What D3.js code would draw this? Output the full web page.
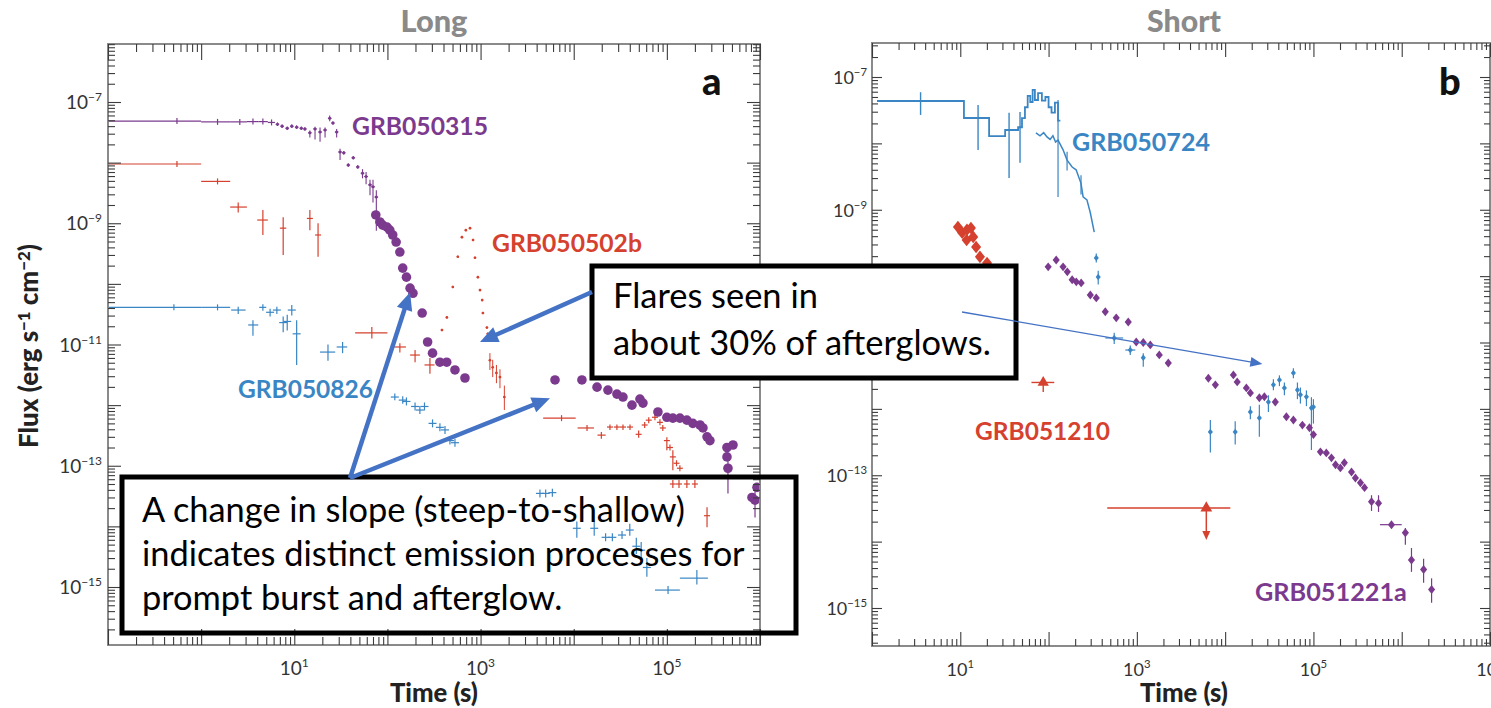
<!DOCTYPE html>
<html>
<head>
<meta charset="utf-8">
<script src="https://cdn.jsdelivr.net/npm/d3@7"></script>
<style>
  body { margin: 0; background: #fff; }
  svg { display: block; }
</style>
</head>
<body>
<svg id="chart" width="1491" height="708"></svg>
<script>
// ---------------------------------------------------------------------------
// Swift X-ray light curves: long bursts (a) and short bursts (b)
// Rows are [time (s), flux, tLo, tHi, fluxLo, fluxHi]; missing ends are null.
// ---------------------------------------------------------------------------

// ---- Panel a: long bursts ----
const grb050315Bins = [
  [0.55, 4.85e-8, 0.1, 1.0], [1.5, 4.7e-8, 1.0, 2.05], [2.6, 4.7e-8, 2.05, 3.1],
  [3.6, 4.75e-8, 3.1, 4.1], [4.6, 4.75e-8, 4.1, 5.2], [5.7, 4.6e-8, 5.2, 6.2]
];
const grb050315Prompt = [
  [6.6, 4.3e-8], [7.4, 4.0e-8], [8.4, 3.7e-8], [9.4, 4.0e-8], [10.6, 3.85e-8],
  [11.9, 3.7e-8], [13.0, 3.6e-8],
  [14.7, 3.1e-8, null, null, 2.6e-8, 3.4e-8], [16.7, 3.6e-8, null, null, 2.4e-8, 3.9e-8],
  [18.9, 3.2e-8, null, null, 2.2e-8, 3.8e-8], [21.4, 3.45e-8, null, null, 2.6e-8, 3.8e-8],
  [24.0, 5.4e-8, null, null, 4.8e-8, 6.0e-8], [26.0, 4.5e-8],
  [28.5, 3.2e-8, null, null, 2.6e-8, 3.6e-8], [31.0, 1.5e-8, null, null, 1.1e-8, 1.7e-8],
  [34.0, 1.45e-8], [38.0, 9.1e-9], [43.0, 1.2e-8], [48.0, 8.5e-9],
  [54.0, 6.7e-9, null, null, 5.5e-9, 7.8e-9], [59.0, 5.9e-9, null, null, 4.4e-9, 7.0e-9],
  [65.0, 4.3e-9, null, null, 2.9e-9, 5.2e-9], [70.0, 4.0e-9, null, null, 2.2e-9, 5.2e-9],
  [76.0, 2.7e-9, null, null, 7.5e-10, 3.5e-9]
];
const grb050315Afterglow = [
  [75, 1.37e-9], [83, 1.05e-9], [89, 9.3e-10], [99, 8.65e-10], [106, 7.7e-10],
  [114, 6.4e-10], [124, 4.9e-10], [136, 3.35e-10], [146, 1.82e-10], [160, 1.29e-10],
  [175, 8.5e-11], [188, 7.0e-11], [236, 3.3e-11], [270, 1.1e-11], [305, 7.2e-12],
  [366, 5.1e-12], [433, 5.1e-12], [531, 3.8e-12], [680, 2.8e-12],
  [6300, 2.6e-12], [12250, 2.6e-12], [17800, 1.98e-12], [23300, 1.77e-12],
  [29100, 1.52e-12], [33800, 1.36e-12], [42200, 1.0e-12], [51400, 1.26e-12],
  [55400, 1.08e-12], [80200, 7.7e-13], [100000, 6.3e-13], [116000, 6.1e-13],
  [138000, 6.1e-13], [164000, 5.65e-13], [190000, 5.0e-13], [227000, 4.7e-13],
  [244000, 4.2e-13], [270000, 3.0e-13], [290000, 2.6e-13], [442000, 2.0e-13],
  [513000, 2.2e-13], [442000, 1.4e-13], [453000, 9.1e-14, null, null, 3.5e-14, 1.4e-13],
  [820000, 3.0e-14], [884000, 2.7e-14, null, null, 1.4e-14, 4.4e-14], [928000, 4.4e-14]
];

const grb050502bBins = [[0.55, 9.5e-9, 0.1, 1.0], [1.5, 4.9e-9, 1.0, 2.05]];
const grb050502bCrosses = [
  [2.5, 1.85e-9, 2.05, 3.1, 1.5e-9, 2.2e-9], [4.6, 1.13e-9, 4.0, 5.2, 6.4e-10, 1.65e-9],
  [7.6, 8.3e-10, 7.0, 8.2, 3.0e-10, 1.25e-9], [14.7, 1.2e-9, null, null, 7.7e-10, 1.65e-9],
  [18.0, 6.4e-10, null, null, 2.8e-10, 1.0e-9],
  [68, 1.55e-11, 45, 100, 1.25e-11, 1.95e-11], [136, 9.1e-12, 118, 158, 7.4e-12, 1.05e-11],
  [198, 6.7e-12, 175, 223, 5.1e-12, 8.1e-12], [286, 4.6e-12, 250, 320, 3.3e-12, 6.0e-12],
  [7400, 6.1e-13, 4700, 10500], [13900, 4.2e-13, 11000, 16500],
  [19800, 3.2e-13, 18000, 22000, 2.8e-13, 3.6e-13],
  [24500, 4.35e-13, null, null, 3.9e-13, 4.8e-13], [29100, 4.35e-13, null, null, 3.9e-13, 4.8e-13],
  [33800, 4.35e-13, null, null, 3.9e-13, 4.8e-13], [40200, 4.35e-13, null, null, 3.9e-13, 4.8e-13],
  [49800, 3.3e-13, null, null, 2.9e-13, 3.8e-13], [57800, 4.7e-13], [63900, 5.65e-13],
  [74500, 6.3e-13], [84300, 5.2e-13], [90500, 4.2e-13],
  [100000, 2.6e-13, null, null, 1.81e-13, 2.96e-13], [108000, 2.0e-13],
  [116000, 1.4e-13, null, null, 8.45e-14, 1.81e-13], [127000, 1.1e-13], [138000, 9.1e-14],
  [116000, 5.0e-14, null, null, 4.3e-14, 5.8e-14], [135000, 5.0e-14, null, null, 4.3e-14, 5.8e-14],
  [164000, 5.0e-14, null, null, 4.3e-14, 5.8e-14], [200000, 5.0e-14, null, null, 4.3e-14, 5.8e-14],
  [270000, 1.5e-14, null, null, 9.7e-15, 2.07e-14]
];
const grb050502bFlare = [
  [385, 1.73e-11], [435, 2.8e-11], [504, 8.9e-11], [570, 2.8e-10], [631, 5.9e-10],
  [695, 7.7e-10], [770, 8.3e-10], [830, 5.3e-10], [871, 2.7e-10], [936, 1.29e-10],
  [986, 7.9e-11], [1040, 5.4e-11], [1060, 3.3e-11], [1170, 1.9e-11], [1195, 1.5e-11],
  [1260, 5.5e-12, null, null, 3.8e-12, 7.2e-12], [1350, 4.2e-12, null, null, 2.9e-12, 5.6e-12],
  [1480, 3.4e-12, null, null, 2.3e-12, 4.6e-12], [1615, 2.9e-12, null, null, 1.9e-12, 3.9e-12],
  [1800, 1.36e-12, null, null, 8.3e-13, 2.1e-12]
];

const grb050826Bins = [[0.51, 4.1e-11, 0.1, 1.0], [1.5, 4.1e-11, 1.0, 2.05]];
const grb050826Crosses = [
  [2.5, 3.7e-11, 2.1, 3.0, 3.2e-11, 4.2e-11], [3.6, 2.1e-11, 3.2, 4.1, 1.4e-11, 2.5e-11],
  [4.6, 4.1e-11, 4.2, 5.0, 3.6e-11, 4.6e-11], [5.5, 3.4e-11, null, null, 2.9e-11, 3.9e-11],
  [6.5, 3.7e-11, null, null, 3.2e-11, 4.2e-11], [7.6, 2.3e-11, null, null, 1.6e-11, 2.9e-11],
  [8.4, 2.4e-11, null, null, 1.7e-11, 3.1e-11], [9.4, 3.7e-11, null, null, 3.0e-11, 4.5e-11],
  [10.6, 1.5e-11, null, null, 4.6e-12, 2.5e-11],
  [23, 7.5e-12, 18.9, 27.5, 5.4e-12, 1.0e-11], [33, 9.1e-12, 28.5, 37, 7.2e-12, 1.1e-11],
  [120, 1.36e-12, null, null, 1.2e-12, 1.55e-12], [146, 1.21e-12, null, null, 1.05e-12, 1.4e-12],
  [160, 1.15e-12], [198, 9.5e-13], [223, 8.3e-13], [250, 9.5e-13],
  [305, 5.0e-13], [366, 4.3e-13], [415, 3.9e-13], [469, 2.6e-13], [531, 2.4e-13],
  [4340, 3.5e-14], [5000, 3.5e-14], [5900, 3.6e-14],
  [10800, 9.3e-15, null, null, 6.5e-15, 1.2e-14], [16600, 9.3e-15, null, null, 7.0e-15, 1.2e-14],
  [22000, 6.6e-15], [26000, 6.6e-15], [33000, 7.2e-15],
  [40000, 8.7e-15, null, null, 7.0e-15, 1.1e-14], [47000, 4.7e-15, null, null, 3.5e-15, 6.5e-15],
  [53000, 4.05e-15, null, null, 2.8e-15, 5.5e-15], [61000, 2.1e-15, null, null, 1.48e-15, 3.0e-15],
  [103000, 8.9e-16, 74500, 138000], [210000, 1.4e-15, 138000, 276000, 1.1e-15, 1.9e-15]
];

// ---- Panel b: short bursts ----
// BAT steps: [tStart, tEnd, flux]
const grb050724Bat = [
  [1.14, 11, 4.35e-8], [11, 21.2, 2.41e-8], [21.2, 32.2, 1.29e-8], [32.2, 45.2, 1.59e-8],
  [45.2, 50, 1.75e-8], [50, 54, 2.4e-8], [54, 58, 3.5e-8], [58, 62, 5.2e-8],
  [62, 66, 4.2e-8], [66, 70, 6.4e-8], [70, 76, 4.5e-8], [76, 84, 5.7e-8],
  [84, 92, 4.4e-8], [92, 100, 5.0e-8], [100, 108, 3.5e-8], [108, 118, 2.9e-8],
  [118, 128, 4.1e-8], [128, 136, 2.2e-8]
];
const grb050724BatErr = [
  [3.55, 4.35e-8, null, null, 2.68e-8, 5.9e-8], [15.9, 2.41e-8, null, null, 7.96e-9, 3.79e-8],
  [35.7, 1.59e-8, null, null, 3.0e-9, 2.9e-8], [47.5, 1.75e-8, null, null, 5.1e-9, 2.98e-8]
];
const grb050724XrtCurve = [
  [72, 1.44e-8], [80, 1.3e-8], [88, 1.45e-8], [96, 1.25e-8], [104, 1.15e-8], [112, 1.3e-8],
  [120, 1.05e-8], [128, 1.12e-8], [146, 8.0e-9], [162, 5.6e-9], [185, 4.4e-9], [205, 4.0e-9],
  [233, 2.5e-9], [246, 1.56e-9], [272, 1.41e-9], [297, 9.0e-10], [329, 4.6e-10]
];
const grb050724XrtErr = [
  [128, 1.12e-8, null, null, 1.56e-9, 4.5e-8], [162, 5.6e-9, null, null, 3.9e-9, 7.5e-9],
  [233, 2.5e-9, null, null, 1.7e-9, 3.3e-9]
];
const grb050724Late = [
  [347, 1.88e-10, null, null, 1.6e-10, 2.2e-10], [365, 9.7e-11, null, null, 7.5e-11, 1.2e-10],
  [554, 1.17e-11, 440, 700, 9.5e-12, 1.4e-11], [842, 7.7e-12, 740, 960, 6.5e-12, 9.0e-12],
  [1182, 5.9e-12, null, null, 4.3e-12, 6.9e-12],
  [6800, 4.5e-13, null, null, 2.2e-13, 6.8e-13], [13000, 4.5e-13, null, null, 2.9e-13, 6.5e-13],
  [19300, 9.0e-13, null, null, 7.0e-13, 1.1e-12], [24400, 7.3e-13, null, null, 3.8e-13, 1.15e-12],
  [30900, 1.27e-12, null, null, 9.0e-13, 1.6e-12], [35200, 2.3e-12, null, null, 1.9e-12, 2.8e-12],
  [41200, 2.73e-12, null, null, 2.2e-12, 3.2e-12], [46900, 2.07e-12, null, null, 1.6e-12, 2.5e-12],
  [59300, 3.48e-12, null, null, 2.9e-12, 4.1e-12], [65900, 1.93e-12, null, null, 1.4e-12, 2.5e-12],
  [71200, 1.63e-12, null, null, 1.2e-12, 2.1e-12], [83300, 1.52e-12, null, null, 1.1e-12, 1.9e-12],
  [94900, 1.03e-12, null, null, 2.4e-13, 1.5e-12], [100000, 1.07e-12, null, null, 6.0e-13, 1.4e-12]
];

const grb051210Prompt = [
  [9.4, 5.5e-10], [10.5, 4.5e-10], [11.8, 3.5e-10], [11.9, 5.0e-10], [13.2, 5.3e-10],
  [14.0, 3.9e-10], [15.1, 2.75e-10], [16.7, 1.95e-10], [20.1, 1.58e-10]
];
const grb051210Detection = [[87, 2.5e-12, 64, 116, 1.8e-12, 2.9e-12]];
const grb051210UpperLimit = [[6120, 3.2e-14, 462, 11450, 1.06e-14]];

const grb051221a = [
  [99, 1.38e-10], [122, 1.75e-10], [146, 1.38e-10], [163, 1.16e-10], [185, 8.8e-11],
  [206, 8.2e-11], [234, 7.9e-11], [297, 5.2e-11], [347, 4.7e-11], [439, 2.9e-11],
  [584, 2.35e-11], [799, 2.04e-11], [984, 1.02e-11], [1182, 1.0e-11], [1420, 9.2e-12],
  [1795, 6.5e-12], [2270, 4.9e-12], [6460, 2.9e-12], [7750, 2.3e-12], [12400, 3.25e-12],
  [13700, 2.55e-12], [17400, 2.07e-12], [19300, 1.74e-12], [24400, 1.47e-12],
  [27800, 1.52e-12], [37000, 1.27e-12], [49400, 7.6e-13], [59300, 6.8e-13],
  [75000, 5.7e-13], [90100, 5.2e-13], [100000, 4.1e-13], [120000, 2.25e-13],
  [140000, 2.17e-13], [160000, 1.83e-13], [178000, 1.44e-13], [202000, 1.29e-13],
  [224000, 1.54e-13], [270000, 1.12e-13], [299000, 9.1e-14], [341000, 7.7e-14],
  [379000, 6.5e-14],
  [455000, 4.0e-14, null, null, 2.9e-14, 5.0e-14], [546000, 3.8e-14, null, null, 2.8e-14, 5.0e-14],
  [766000, 1.8e-14, 567000, 1.0e6], [1.1e6, 1.36e-14, null, null, 9.0e-15, 1.6e-14],
  [1.29e6, 5.3e-15, null, null, 3.5e-15, 8.0e-15], [1.77e6, 3.8e-15, null, null, 2.4e-15, 5.5e-15],
  [2.18e6, 1.9e-15, null, null, 1.2e-15, 2.8e-15]
];

// Tick labels (powers of ten); panel b's 10^-11 sits under the flare note
const xLabelExpA = [1, 3, 5];
const xLabelExpB = [1, 3, 5, 7];
const yLabelExpA = [-7, -9, -11, -13, -15];
const yLabelExpB = [-7, -9, -13, -15];

// Burst names and panel titles
const panelTitles = ["Long", "Short"];
const panelLetters = ["a", "b"];
const burstNames = ["GRB050315", "GRB050502b", "GRB050826", "GRB050724", "GRB051210", "GRB051221a"];

// Annotation texts and where their arrows point (time, flux)
const slopeNote = ["A change in slope (steep-to-shallow)", "indicates distinct emission processes for", "prompt burst and afterglow."];
const flareNote = ["Flares seen in", "about 30% of afterglows."];
const slopeArrowTips = [[175, 7.3e-11], [5560, 1.3e-12]];
const flareArrowTipA = [986, 1.1e-11];
const flareArrowTipB = [26400, 4.76e-12];

// ---------------------------------------------------------------------------
const PURPLE = "#7b3a8e", RED = "#d5412e", BLUE = "#3a86c4", ARROW = "#4472c4";
const FONT = "Lato, 'Open Sans', sans-serif";

const svg = d3.select("#chart");
svg.append("rect").attr("width", 1491).attr("height", 708).attr("fill", "#fff");
const defs = svg.append("defs");

const frameA = { left: 108, right: 760, top: 44, bottom: 645 };
const frameB = { left: 872, right: 1490, top: 43, bottom: 646 };

// Log scales; the flux scale is anchored on its labelled decades, then widened to the frame.
function frameScale(anchor, f) {
  return d3.scaleLog().domain([anchor.invert(f.bottom), anchor.invert(f.top)]).range([f.bottom, f.top]);
}
const xA = d3.scaleLog().domain([0.1, 1e6]).range([frameA.left, frameA.right]);
const yA = frameScale(d3.scaleLog().domain([1e-15, 1e-7]).range([587, 102]), frameA);
const xB = d3.scaleLog().domain([1, 1e7]).range([frameB.left, frameB.right]);
const yB = frameScale(d3.scaleLog().domain([1e-15, 1e-7]).range([608, 77]), frameB);

function clipFor(id, f) {
  defs.append("clipPath").attr("id", id).append("rect")
    .attr("x", f.left).attr("y", f.top).attr("width", f.right - f.left).attr("height", f.bottom - f.top);
}
clipFor("clipA", frameA);
clipFor("clipB", frameB);

const val = (r, i) => (r[i] === undefined ? null : r[i]);

// Error-bar crosses
function crosses(g, x, y, rows, color, o = {}) {
  const cap = o.cap ?? 2, lw = o.lw ?? 1.2;
  const cg = g.append("g").attr("stroke", color).attr("stroke-width", lw);
  cg.selectAll("line.h").data(rows).join("line").attr("class", "h")
    .attr("x1", d => val(d, 2) != null ? x(d[2]) : x(d[0]) - cap)
    .attr("x2", d => val(d, 3) != null ? x(d[3]) : x(d[0]) + cap)
    .attr("y1", d => y(d[1])).attr("y2", d => y(d[1]));
  cg.selectAll("line.v").data(rows).join("line").attr("class", "v")
    .attr("x1", d => x(d[0])).attr("x2", d => x(d[0]))
    .attr("y1", d => val(d, 5) != null ? y(d[5]) : y(d[1]) - cap)
    .attr("y2", d => val(d, 4) != null ? y(d[4]) : y(d[1]) + cap);
  if (o.dot) {
    g.append("g").attr("fill", color).selectAll("circle").data(rows).join("circle")
      .attr("cx", d => x(d[0])).attr("cy", d => y(d[1])).attr("r", o.dot);
  }
}

function dots(g, x, y, rows, color, r) {
  g.append("g").attr("fill", color).selectAll("circle").data(rows).join("circle")
    .attr("cx", d => x(d[0])).attr("cy", d => y(d[1])).attr("r", r);
}

// Diamond symbol, slightly wider than d3's built-in one
const wideDiamond = {
  draw(ctx, size) {
    const h = Math.sqrt(size) * 0.6, w = h * 0.8;
    ctx.moveTo(0, -h); ctx.lineTo(w, 0); ctx.lineTo(0, h); ctx.lineTo(-w, 0); ctx.closePath();
  }
};
function symbols(g, x, y, rows, color, type, size) {
  g.append("g").attr("fill", color).selectAll("path").data(rows).join("path")
    .attr("transform", d => `translate(${x(d[0])},${y(d[1])})`)
    .attr("d", d3.symbol().type(type).size(size));
}

// Inward ticks on all four sides, decades longer than the rest
function ticks(g, x, y, f, L) {
  const isMajor = d => Math.abs(Math.log10(d) - Math.round(Math.log10(d))) < 1e-6;
  const side = (axis, tr, vals, attr, sign, maj, min) => {
    const a = g.append("g").attr("transform", tr)
      .call(axis.tickValues(vals).tickSize(0).tickFormat(() => ""));
    a.select(".domain").remove();
    a.selectAll(".tick line").attr(attr, d => sign * (isMajor(d) ? maj : min))
      .attr("stroke", "#3c3c3c").attr("stroke-width", 1.1);
  };
  const xt = x.ticks(40), yt = y.ticks(40);
  side(d3.axisBottom(x), `translate(0,${f.bottom})`, xt, "y2", -1, L.xMaj, L.xMin);
  side(d3.axisTop(x), `translate(0,${f.top})`, xt, "y2", 1, L.xMaj, L.xMin);
  side(d3.axisLeft(y), `translate(${f.left},0)`, yt, "x2", 1, L.yMaj, L.yMin);
  side(d3.axisRight(y), `translate(${f.right},0)`, yt, "x2", -1, L.yMaj, L.yMin);
}

function powerLabel(sel, e) {
  sel.append("tspan").text("10");
  sel.append("tspan").attr("dy", -8).attr("font-size", "0.63em")
    .text(e < 0 ? "\u2212" + (-e) : String(e));
}

function tickLabels(g, x, y, xExps, yExps, o) {
  xExps.forEach(e => {
    const t = g.append("text").attr("x", x(Math.pow(10, e))).attr("y", o.xBase)
      .attr("text-anchor", "middle").attr("font-size", o.size).attr("fill", "#333");
    powerLabel(t, e);
  });
  yExps.forEach(e => {
    const t = g.append("text").attr("x", o.yRight).attr("y", y(Math.pow(10, e)) + 7)
      .attr("text-anchor", "end").attr("font-size", o.size).attr("fill", "#333");
    powerLabel(t, e);
  });
}

function fitWidth(sel, target) {
  const w = sel.node().getComputedTextLength();
  const fs = parseFloat(sel.attr("font-size"));
  sel.attr("font-size", fs * target / w);
}

const root = svg.append("g").attr("font-family", FONT);

// ---------------- Panel a ----------------
const gA = root.append("g");
const dA = gA.append("g").attr("clip-path", "url(#clipA)");
crosses(dA, xA, yA, grb050826Bins, BLUE, { cap: 3 });
crosses(dA, xA, yA, grb050826Crosses, BLUE, { cap: 4 });
crosses(dA, xA, yA, grb050502bBins, RED, { cap: 3 });
crosses(dA, xA, yA, grb050502bCrosses, RED, { cap: 3 });
crosses(dA, xA, yA, grb050502bFlare, RED, { cap: 1.2, dot: 1.3, lw: 1 });
crosses(dA, xA, yA, grb050315Bins, PURPLE, { cap: 3 });
crosses(dA, xA, yA, grb050315Prompt, PURPLE, { cap: 1.8, dot: 1.5, lw: 1.1 });
crosses(dA, xA, yA, grb050315Afterglow.filter(d => d.length > 2), PURPLE, { cap: 0 });
dots(dA, xA, yA, grb050315Afterglow, PURPLE, 4.8);

gA.append("rect").attr("x", frameA.left).attr("y", frameA.top)
  .attr("width", frameA.right - frameA.left).attr("height", frameA.bottom - frameA.top)
  .attr("fill", "none").attr("stroke", "#8a8a8a").attr("stroke-width", 2);
ticks(gA, xA, yA, frameA, { xMaj: 16, xMin: 8, yMaj: 13, yMin: 7 });
tickLabels(gA, xA, yA, xLabelExpA, yLabelExpA, { xBase: 675, yRight: 102, size: 19 });

// ---------------- Panel b ----------------
const gB = root.append("g");
const dB = gB.append("g").attr("clip-path", "url(#clipB)");
const stepLine = d3.line().x(d => xB(d[0])).y(d => yB(d[1])).curve(d3.curveStepAfter);
const batPts = grb050724Bat.map(d => [d[0], d[2]]).concat([[grb050724Bat.at(-1)[1], grb050724Bat.at(-1)[2]]]);
dB.append("path").attr("d", stepLine(batPts)).attr("fill", "none").attr("stroke", BLUE).attr("stroke-width", 1.8);
crosses(dB, xB, yB, grb050724BatErr, BLUE, { cap: 0, lw: 1.4 });
dB.append("path").attr("d", d3.line().x(d => xB(d[0])).y(d => yB(d[1]))(grb050724XrtCurve))
  .attr("fill", "none").attr("stroke", BLUE).attr("stroke-width", 1.5);
crosses(dB, xB, yB, grb050724XrtErr, BLUE, { cap: 0, lw: 1.2 });
crosses(dB, xB, yB, grb050724Late, BLUE, { cap: 0, lw: 1.2 });
symbols(dB, xB, yB, grb050724Late, BLUE, wideDiamond, 28);

symbols(dB, xB, yB, grb051210Prompt, RED, wideDiamond, 110);
crosses(dB, xB, yB, grb051210Detection, RED, { cap: 0, lw: 1.4 });
symbols(dB, xB, yB, grb051210Detection, RED, d3.symbolTriangle, 55);
// upper limit: horizontal span, triangle, and a downward arrow
const ul = dB.append("g");
ul.selectAll("line.h").data(grb051210UpperLimit).join("line").attr("class", "h")
  .attr("x1", d => xB(d[2])).attr("x2", d => xB(d[3])).attr("y1", d => yB(d[1])).attr("y2", d => yB(d[1]))
  .attr("stroke", RED).attr("stroke-width", 1.5);
ul.selectAll("line.v").data(grb051210UpperLimit).join("line").attr("class", "v")
  .attr("x1", d => xB(d[0])).attr("x2", d => xB(d[0])).attr("y1", d => yB(d[1])).attr("y2", d => yB(d[4]) - 4)
  .attr("stroke", RED).attr("stroke-width", 1.5);
ul.selectAll("path.head").data(grb051210UpperLimit).join("path").attr("class", "head")
  .attr("transform", d => `translate(${xB(d[0])},${yB(d[4])})`)
  .attr("d", "M0,0L-4,-9L4,-9Z").attr("fill", RED);
symbols(ul, xB, yB, grb051210UpperLimit, RED, d3.symbolTriangle, 60);

crosses(dB, xB, yB, grb051221a, PURPLE, { cap: 2.5, lw: 1.2 });
symbols(dB, xB, yB, grb051221a, PURPLE, wideDiamond, 55);

gB.append("rect").attr("x", frameB.left).attr("y", frameB.top)
  .attr("width", frameB.right - frameB.left).attr("height", frameB.bottom - frameB.top)
  .attr("fill", "none").attr("stroke", "#8a8a8a").attr("stroke-width", 2);
ticks(gB, xB, yB, frameB, { xMaj: 14, xMin: 7, yMaj: 10, yMin: 6 });
tickLabels(gB, xB, yB, xLabelExpB, yLabelExpB, { xBase: 676, yRight: 867, size: 18 });

// ---------------- Titles and axis names ----------------
const titleLayout = [{ cx: 434, base: 32, w: 67 }, { cx: 1184, base: 32, w: 74 }];
panelTitles.forEach((t, i) => {
  const s = root.append("text").attr("x", titleLayout[i].cx).attr("y", titleLayout[i].base)
    .attr("text-anchor", "middle").attr("font-size", 26).attr("font-weight", 900).attr("fill", "#8a8a8a").text(t);
  fitWidth(s, titleLayout[i].w);
});

const letterLayout = [{ x: 702, base: 95 }, { x: 1439, base: 95 }];
panelLetters.forEach((t, i) => root.append("text").attr("x", letterLayout[i].x).attr("y", letterLayout[i].base)
  .attr("font-size", 38).attr("font-weight", 900).attr("fill", "#111").text(t));

[434, 1184].forEach(cx => {
  const s = root.append("text").attr("x", cx).attr("y", 702)
    .attr("text-anchor", "middle").attr("font-size", 21).attr("font-weight", 900).attr("fill", "#222").text("Time (s)");
  fitWidth(s, 88);
});

const fluxTitle = root.append("text").attr("transform", "translate(38,346) rotate(-90)")
  .attr("text-anchor", "middle").attr("font-size", 20).attr("font-weight", 900).attr("fill", "#222");
fluxTitle.append("tspan").text("Flux (erg s");
fluxTitle.append("tspan").attr("dy", -8).attr("font-size", "0.65em").text("\u22121");
fluxTitle.append("tspan").attr("dy", 8).text(" cm");
fluxTitle.append("tspan").attr("dy", -8).attr("font-size", "0.65em").text("\u22122");
fluxTitle.append("tspan").attr("dy", 8).text(")");
fitWidth(fluxTitle, 204);

// ---------------- Burst labels ----------------
const labelLayout = {
  GRB050315: { x: 352, base: 135, w: 136, color: PURPLE },
  GRB050502b: { x: 492, base: 252, w: 150, color: RED },
  GRB050826: { x: 238, base: 398, w: 135, color: BLUE },
  GRB050724: { x: 1072, base: 151, w: 138, color: BLUE },
  GRB051210: { x: 975, base: 440, w: 135, color: RED },
  GRB051221a: { x: 1255, base: 601, w: 152, color: PURPLE }
};
burstNames.forEach(n => {
  const L = labelLayout[n];
  const t = root.append("text").attr("x", L.x).attr("y", L.base).attr("font-size", 24)
    .attr("font-weight", 700).attr("fill", L.color).text(n);
  fitWidth(t, L.w);
});

// ---------------- Annotation boxes ----------------
// The slope note is an open frame over the data; the flare note is filled white.
function noteBox(lines, box, textX, baselines, fitIdx, fitW, fill) {
  const g = root.append("g");
  g.append("rect").attr("x", box.x).attr("y", box.y).attr("width", box.w).attr("height", box.h)
    .attr("fill", fill).attr("stroke", "#000").attr("stroke-width", 5);
  const ts = lines.map((l, i) => g.append("text").attr("x", textX).attr("y", baselines[i])
    .attr("font-size", 30).attr("fill", "#000").text(l));
  const w = ts[fitIdx].node().getComputedTextLength();
  const fs = 30 * fitW / w;
  ts.forEach(t => t.attr("font-size", fs));
}
noteBox(slopeNote, { x: 122, y: 477, w: 674, h: 156 }, 142, [522, 566, 610], 1, 603, "none");
noteBox(flareNote, { x: 592, y: 266, w: 424, h: 112 }, 613, [308, 355], 1, 378, "#fff");

// ---------------- Arrows ----------------
function arrow(x1, y1, x2, y2, o) {
  const dx = x2 - x1, dy = y2 - y1, L = Math.hypot(dx, dy), ux = dx / L, uy = dy / L;
  const bx = x2 - ux * o.head, by = y2 - uy * o.head;
  root.append("line").attr("x1", x1).attr("y1", y1).attr("x2", bx + ux).attr("y2", by + uy)
    .attr("stroke", o.color).attr("stroke-width", o.width);
  root.append("path")
    .attr("d", `M${x2},${y2}L${bx - uy * o.half},${by + ux * o.half}L${bx + uy * o.half},${by - ux * o.half}Z`)
    .attr("fill", o.color);
}
const thick = { color: ARROW, width: 4.5, head: 18, half: 8 };
slopeArrowTips.forEach(p => arrow(350, 478, xA(p[0]), yA(p[1]), thick));
arrow(592, 292, xA(flareArrowTipA[0]), yA(flareArrowTipA[1]), thick);
arrow(962, 312, xB(flareArrowTipB[0]), yB(flareArrowTipB[1]), { color: ARROW, width: 1.3, head: 12, half: 5 });
</script>
</body>
</html>
